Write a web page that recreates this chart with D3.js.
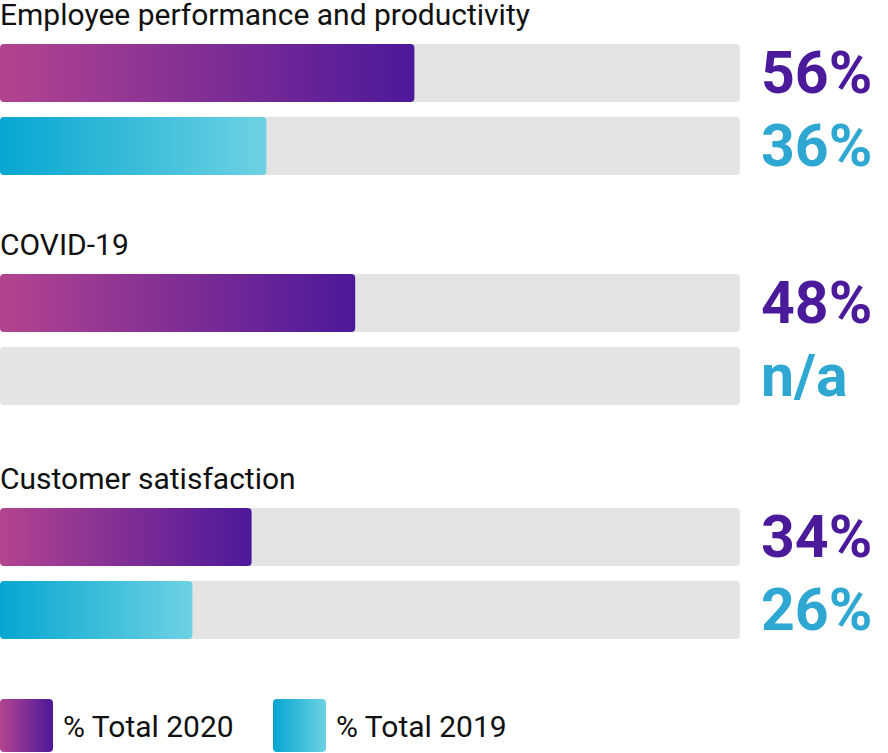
<!DOCTYPE html>
<html><head><meta charset="utf-8">
<script src="https://cdn.jsdelivr.net/npm/d3@7"></script>
<style>body{margin:0;background:#fff}svg{display:block}</style>
</head><body>
<svg id="c" width="888" height="753"></svg>
<script>
const categories = ["Employee performance and productivity", "COVID-19", "Customer satisfaction"];
const values2020 = [56, 48, 34];
const values2019 = [36, null, 26];
const seriesNames = ["% Total 2020", "% Total 2019"];

const svg = d3.select("#c");
const x = d3.scaleLinear().domain([0, 100]).range([0, 740]);
const groupY = d3.scaleOrdinal().domain(categories).range([44, 274, 508]);
const barH = 58;

const defs = svg.append("defs");
const g1 = defs.append("linearGradient").attr("id", "gp");
g1.append("stop").attr("offset", "0%").attr("stop-color", "#b3448f");
g1.append("stop").attr("offset", "100%").attr("stop-color", "#4d189b");
const g2 = defs.append("linearGradient").attr("id", "gb");
g2.append("stop").attr("offset", "0%").attr("stop-color", "#06a6d1");
g2.append("stop").attr("offset", "100%").attr("stop-color", "#6dd2e2");

const series = [
  {name: seriesNames[0], vals: values2020, fill: "url(#gp)", color: "#4a1a9b", dy: 0},
  {name: seriesNames[1], vals: values2019, fill: "url(#gb)", color: "#2fa7d3", dy: 73}
];

categories.forEach((c, i) => {
  const g = svg.append("g").attr("transform", `translate(0,${groupY(c)})`);
  g.append("text").attr("x", 0).attr("y", -19).attr("font-family", "Roboto").attr("font-size", 30)
    .attr("fill", "#111").text(c);
  series.forEach(s => {
    const v = s.vals[i];
    g.append("rect").attr("x", 0).attr("y", s.dy).attr("width", x(100)).attr("height", barH)
      .attr("rx", 4).attr("fill", "#e3e4e3");
    if (v != null) {
      g.append("rect").attr("x", 0).attr("y", s.dy).attr("width", x(v)).attr("height", barH)
        .attr("rx", 4).attr("fill", s.fill);
    }
    g.append("text").attr("x", 761).attr("y", s.dy + barH / 2 + 20)
      .attr("font-family", "Roboto").attr("font-weight", "bold").attr("font-size", 59)
      .attr("fill", s.color).text(v != null ? v + "%" : "n/a");
  });
});

const leg = svg.append("g").attr("transform", "translate(0,699)");
[0, 1].forEach(k => {
  const s = series[k];
  const lx = k === 0 ? 0 : 273;
  leg.append("rect").attr("x", lx).attr("y", 0).attr("width", 53).attr("height", 53).attr("rx", 4).attr("fill", s.fill);
  leg.append("text").attr("x", lx + 63).attr("y", 38).attr("font-family", "Roboto").attr("font-size", 30)
    .attr("fill", "#111").text(s.name);
});
</script>
</body></html>
